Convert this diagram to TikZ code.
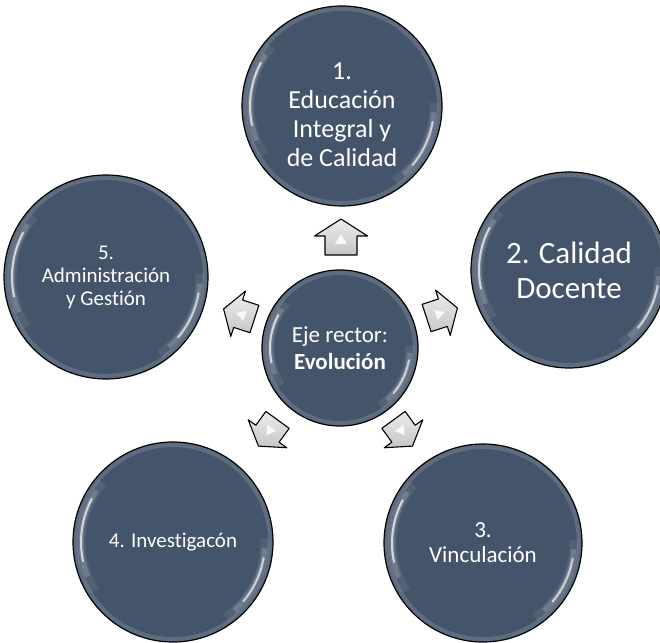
\documentclass[tikz,border=0pt]{standalone}
\usepackage{fontspec}
\setmainfont{Carlito}[Ligatures=NoCommon]
\usepackage{tikz}

\definecolor{pizarra}{HTML}{44546A}

\tikzset{
  bola/.style={circle, draw=black, line width=1.2pt, fill=pizarra, text=white,
    minimum size=2*#1, inner sep=0pt, align=center,
    path picture={
      \draw[white, opacity=.14, line width=5pt] (path picture bounding box.center) circle (#1-2.5pt);
      \draw[white, opacity=.08, line width=9pt] (path picture bounding box.center) ++(140:{#1-8pt}) arc[start angle=140, end angle=212, radius=#1-8pt];
      \draw[white, opacity=.18, line width=5pt] (path picture bounding box.center) ++(146:{#1-8pt}) arc[start angle=146, end angle=202, radius=#1-8pt];
      \draw[white, opacity=.7, line width=2pt, line cap=round] (path picture bounding box.center) ++(152:{#1-8pt}) arc[start angle=152, end angle=192, radius=#1-8pt];
      \draw[white, opacity=.08, line width=9pt] (path picture bounding box.center) ++(-55:{#1-8pt}) arc[start angle=-55, end angle=2, radius=#1-8pt];
      \draw[white, opacity=.18, line width=5pt] (path picture bounding box.center) ++(-48:{#1-8pt}) arc[start angle=-48, end angle=-4, radius=#1-8pt];
      \draw[white, opacity=.65, line width=2pt, line cap=round] (path picture bounding box.center) ++(-40:{#1-8pt}) arc[start angle=-40, end angle=-10, radius=#1-8pt];
    }},
  flecha/.style={draw=black, line width=1.1pt, line join=round, top color=gray!15, bottom color=gray!45},
  brillo/.style={fill=white, opacity=.85},
}

\begin{document}
\begin{tikzpicture}[x=1pt, y=1pt]
\useasboundingbox (0,0) rectangle (660,642);
\clip (0,0) rectangle (660,642);
% the five outer circles
\node[bola=100pt, font=\fontsize{26}{29}\selectfont] (educacion) at (342,536) {\rule{0pt}{34pt}1.\\Educación\\Integral y\\de Calidad};
\node[bola=98pt, font=\fontsize{31}{35}\selectfont] (docente) at (569,372) {2. Calidad\\Docente};
\node[bola=99pt, font=\fontsize{23}{25}\selectfont] (vinculacion) at (483,99) {3.\\Vinculación};
\node[bola=100pt, font=\fontsize{21}{23}\selectfont] (investigacion) at (173,100) {4. Investigacón};
\node[bola=102pt, font=\fontsize{21}{23}\selectfont] (gestion) at (106,365) {5.\\Administración\\y Gestión};
% center circle
\node[bola=78pt, font=\fontsize{23}{27}\selectfont] (eje) at (340,294) {Eje rector:\\\textbf{Evolución}};
% arrows
\begin{scope}[shift={(341,405)}, rotate=90]
  \draw[flecha] (-18,-16) -- (1,-16) -- (1,-26.5) -- (18,0) -- (1,26.5) -- (1,16) -- (-18,16) -- cycle;
  \fill[brillo] (-7,-6) -- (3,0) -- (-7,6) -- cycle;
\end{scope}
\begin{scope}[shift={(442,329)}, rotate=18, scale=.9]
  \draw[flecha] (-18,-16) -- (1,-16) -- (1,-26.5) -- (18,0) -- (1,26.5) -- (1,16) -- (-18,16) -- cycle;
  \fill[brillo] (-7,-6) -- (3,0) -- (-7,6) -- cycle;
\end{scope}
\begin{scope}[shift={(403,209)}, rotate=-54, scale=.9]
  \draw[flecha] (-18,-16) -- (1,-16) -- (1,-26.5) -- (18,0) -- (1,26.5) -- (1,16) -- (-18,16) -- cycle;
  \fill[brillo] (-7,-6) -- (3,0) -- (-7,6) -- cycle;
\end{scope}
\begin{scope}[shift={(268,209)}, rotate=234, scale=.9]
  \draw[flecha] (-18,-16) -- (1,-16) -- (1,-26.5) -- (18,0) -- (1,26.5) -- (1,16) -- (-18,16) -- cycle;
  \fill[brillo] (-7,-6) -- (3,0) -- (-7,6) -- cycle;
\end{scope}
\begin{scope}[shift={(239,328)}, rotate=162, scale=.9]
  \draw[flecha] (-18,-16) -- (1,-16) -- (1,-26.5) -- (18,0) -- (1,26.5) -- (1,16) -- (-18,16) -- cycle;
  \fill[brillo] (-7,-6) -- (3,0) -- (-7,6) -- cycle;
\end{scope}
\end{tikzpicture}
\end{document}
